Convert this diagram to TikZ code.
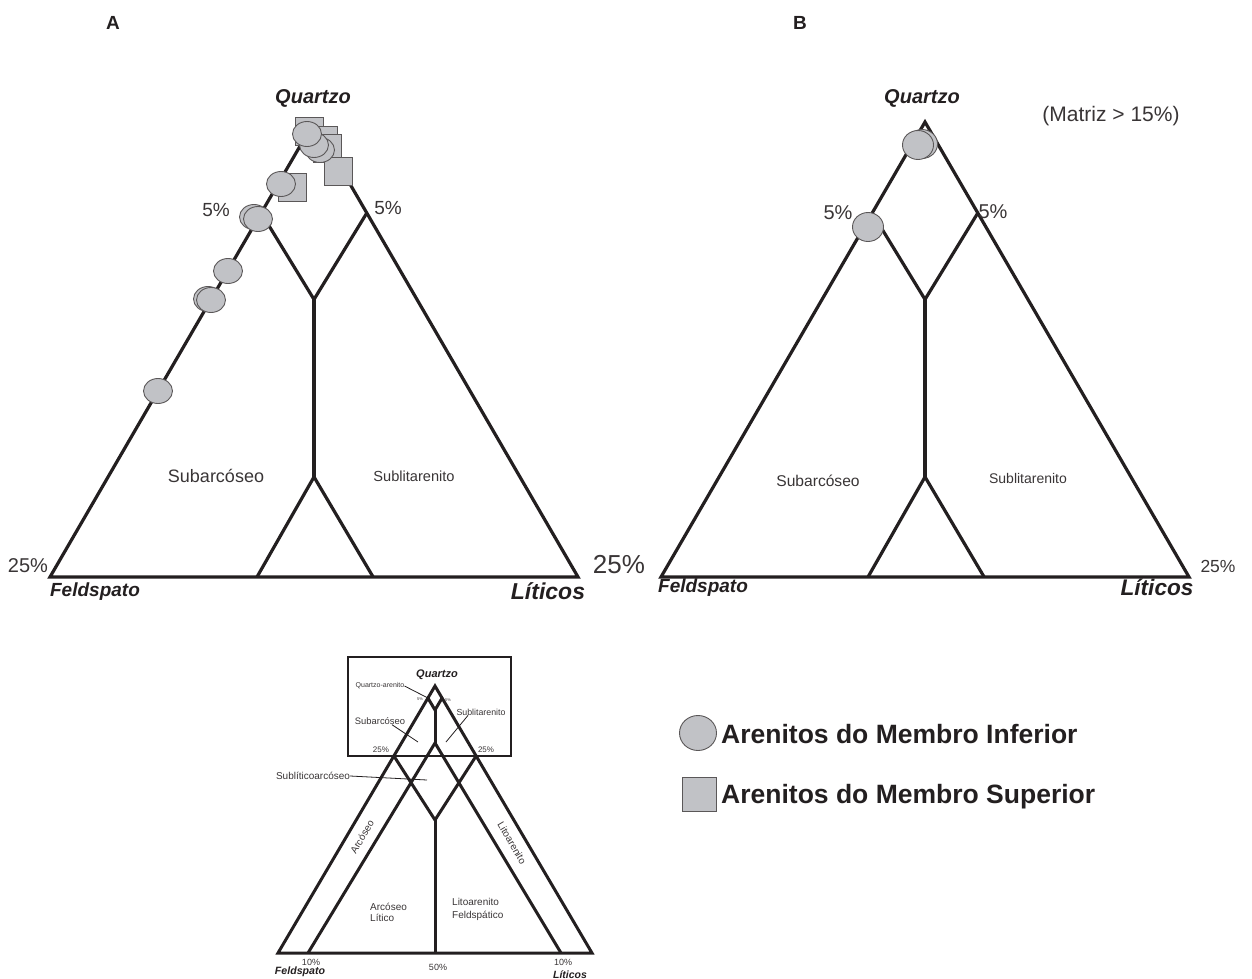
\documentclass[tikz,border=0pt]{standalone}
\usepackage{fontspec}
\setmainfont{Liberation Sans}
\usepackage{tikz}
\usetikzlibrary{
  positioning, calc,
  shapes.geometric
}

\definecolor{ink}{RGB}{35,31,32}
\definecolor{markfill}{RGB}{193,194,198}
\newcommand{\pxfont}[1]{\fontsize{#1}{#1}\selectfont}

\tikzset{
  tri/.style={draw=ink, line width=3.2pt},
  smalltri/.style={draw=ink, line width=3pt},
  ptr/.style={draw=ink, line width=0.8pt},
  vlab/.style={font=\bfseries\itshape\pxfont{#1}, text=ink, inner sep=0pt},
  plain/.style={font=\pxfont{#1}, text=ink!90, inner sep=0pt},
  incirc/.style={ellipse, draw=ink!75, fill=markfill, line width=0.9pt,
    inner sep=0pt, minimum width=29pt, minimum height=25pt},
  supsq/.style={rectangle, draw=ink!75, fill=markfill, line width=0.9pt,
    inner sep=0pt, minimum size=28pt}
}

\begin{document}
\begin{tikzpicture}[x=1pt, y=-1pt]
  \useasboundingbox (0,0) rectangle (1252,979);

  % the two large triangles (A and B)
  \foreach \p/\dx in {a/0, b/611}{
    \begin{scope}[xshift=\dx pt]
      \coordinate (\p-q) at (314,122);
      \coordinate (\p-f) at (50,577);
      \coordinate (\p-l) at (578,577);
    \end{scope}
    \coordinate (\p-axis) at ($(\p-f)!0.5!(\p-l)$);
    \coordinate (\p-5f) at ($(\p-q)!0.2!(\p-f)$);
    \coordinate (\p-5l) at ($(\p-q)!0.2!(\p-l)$);
    \coordinate (\p-dm) at ($(\p-q)!0.39!(\p-axis)$);
    \coordinate (\p-top) at ($(\p-q)!0.78!(\p-axis)$);
    \coordinate (\p-bf) at ($(\p-f)!0.392!(\p-l)$);
    \coordinate (\p-bl) at ($(\p-f)!0.612!(\p-l)$);
    \draw[tri] (\p-q) -- (\p-f) -- (\p-l) -- cycle;
    \draw[tri] (\p-5f) -- (\p-dm) -- (\p-5l);
    \draw[tri] (\p-dm) -- (\p-top);
    \draw[tri] (\p-bf) -- (\p-top) -- (\p-bl);
  }

  % labels A
  \node[font=\bfseries\pxfont{19}, text=ink] (capa) at (113,23) {A};
  \node[vlab=20] (a-qlab) at (313,98) {Quartzo};
  \node[plain=19] (a-p5f) at (216,210) {5\%};
  \node[plain=19] (a-p5l) at (388,208) {5\%};
  \node[plain=20] (a-p25f) at (28,566) {25\%};
  \node[plain=26] (a-p25l) at (619,565) {25\%};
  \node[vlab=19] (a-flab) at (95,592) {Feldspato};
  \node[vlab=23] (a-llab) at (548,591) {Líticos};
  \node[plain=18] (a-subarc) at (216,476) {Subarcóseo};
  \node[plain=14.6] (a-sublit) at (414,476) {Sublitarenito};

  % labels B
  \node[font=\bfseries\pxfont{19}, text=ink] (capb) at (800,23) {B};
  \node[vlab=20] (b-qlab) at (922,98) {Quartzo};
  \node[plain=21] (matriz) at (1111,116) {(Matriz > 15\%)};
  \node[plain=20] (b-p5f) at (838,213) {5\%};
  \node[plain=20] (b-p5l) at (993,212) {5\%};
  \node[plain=17.5] (b-p25l) at (1218,566) {25\%};
  \node[vlab=19] (b-flab) at (703,588) {Feldspato};
  \node[vlab=22.6] (b-llab) at (1157,587) {Líticos};
  \node[plain=15.6] (b-subarc) at (818,481) {Subarcóseo};
  \node[plain=14] (b-sublit) at (1028,478) {Sublitarenito};

  % samples, triangle A
  \node[supsq] (s1) at (309,131) {};
  \node[supsq] (s2) at (323,140) {};
  \node[supsq] (s3) at (327,148) {};
  \node[supsq] (s4) at (338,171) {};
  \node[supsq] (s5) at (292,187) {};
  \node[incirc] (c1) at (320,150) {};
  \node[incirc] (c2) at (314,145) {};
  \node[incirc] (c3) at (307,134) {};
  \node[incirc] (c4) at (281,184) {};
  \node[incirc] (c5) at (254,217) {};
  \node[incirc] (c6) at (258,219) {};
  \node[incirc] (c7) at (228,271) {};
  \node[incirc] (c8) at (208,299) {};
  \node[incirc] (c9) at (211,300) {};
  \node[incirc] (c10) at (158,391) {};

  % samples, triangle B
  \node[incirc, minimum width=31pt, minimum height=29pt] (c11) at (922,144) {};
  \node[incirc, minimum width=31pt, minimum height=29pt] (c12) at (918,145) {};
  \node[incirc, minimum width=31pt, minimum height=29pt] (c13) at (868,227) {};

  % small reference triangle
  \node[draw=ink, line width=1.3pt, minimum width=163pt, minimum height=99pt,
    inner sep=0pt] (zoombox) at (429.5,706.5) {};
  \coordinate (sq) at (435,686);
  \coordinate (sf) at (278,953);
  \coordinate (sl) at (592,953);
  \coordinate (s5f) at ($(sq)!0.045!(sf)$);
  \coordinate (s5l) at ($(sq)!0.045!(sl)$);
  \coordinate (s25f) at ($(sq)!0.262!(sf)$);
  \coordinate (s25l) at ($(sq)!0.262!(sl)$);
  \coordinate (sdm) at (435,710);
  \coordinate (stop) at (435,743);
  \coordinate (sbot) at (435,820);
  \coordinate (s10f) at (308,953);
  \coordinate (s10l) at (561,953);
  \coordinate (s50) at (435,953);
  \draw[smalltri] (sq) -- (sf) -- (sl) -- cycle;
  \draw[smalltri] (s5f) -- (sdm) -- (s5l);
  \draw[smalltri] (sdm) -- (stop);
  \draw[smalltri] (s10f) -- (stop) -- (s10l);
  \draw[smalltri] (s25f) -- (sbot) -- (s25l);
  \draw[smalltri] (sbot) -- (s50);

  \node[vlab=11] (sqlab) at (437,675) {Quartzo};
  \node[plain=7] (sqa) at (380,686) {Quartzo-arenito};
  \node[plain=4] (s5flab) at (420,699) {5\%};
  \node[plain=4] (s5llab) at (448,700) {5\%};
  \node[plain=9.4] (ssub) at (380,721) {Subarcóseo};
  \node[plain=8.8] (ssl) at (481,712) {Sublitarenito};
  \node[plain=8] (s25flab) at (381,750) {25\%};
  \node[plain=8] (s25llab) at (486,750) {25\%};
  \node[plain=10] (slc) at (313,776) {Sublíticoarcóseo};
  \node[plain=10, rotate=59.5] (sark) at (362,837) {Arcóseo};
  \node[plain=10, rotate=-59.5] (slit) at (512,843) {Litoarenito};
  \node[plain=10, align=left, anchor=west] (sarkl) at (370,912) {Arcóseo\\[1pt]Lítico};
  \node[plain=10, align=left, anchor=west] (slitf) at (452,909) {Litoarenito\\[3pt]Feldspático};
  \node[plain=9] (s10flab) at (311,962) {10\%};
  \node[plain=9] (s50lab) at (438,967) {50\%};
  \node[plain=9] (s10llab) at (563,962) {10\%};
  \node[vlab=10.6] (sflab) at (300,972) {Feldspato};
  \node[vlab=10.5] (sllab) at (570,975) {Líticos};

  \coordinate (psub) at (418,742);
  \coordinate (psl) at (446,742);
  \coordinate (pslc) at (427,780);
  \draw[ptr] (sqa.east) -- (s5f);
  \draw[ptr] ($(ssub.south)+(12,0)$) -- (psub);
  \draw[ptr] ($(ssl.south)+(-13,0)$) -- (psl);
  \draw[ptr] (slc.east) -- (pslc);

  % legend
  \node[incirc, minimum width=37pt, minimum height=35pt] (leginf) at (698,733) {};
  \node[supsq, minimum size=34pt] (legsup) at (699,794) {};
  \node[font=\bfseries\pxfont{26.5}, text=ink, anchor=base west, inner sep=0pt]
    (leginftxt) at (721,743) {Arenitos do Membro Inferior};
  \node[font=\bfseries\pxfont{26.5}, text=ink, anchor=base west, inner sep=0pt]
    (legsuptxt) at (721,803) {Arenitos do Membro Superior};
\end{tikzpicture}
\end{document}
